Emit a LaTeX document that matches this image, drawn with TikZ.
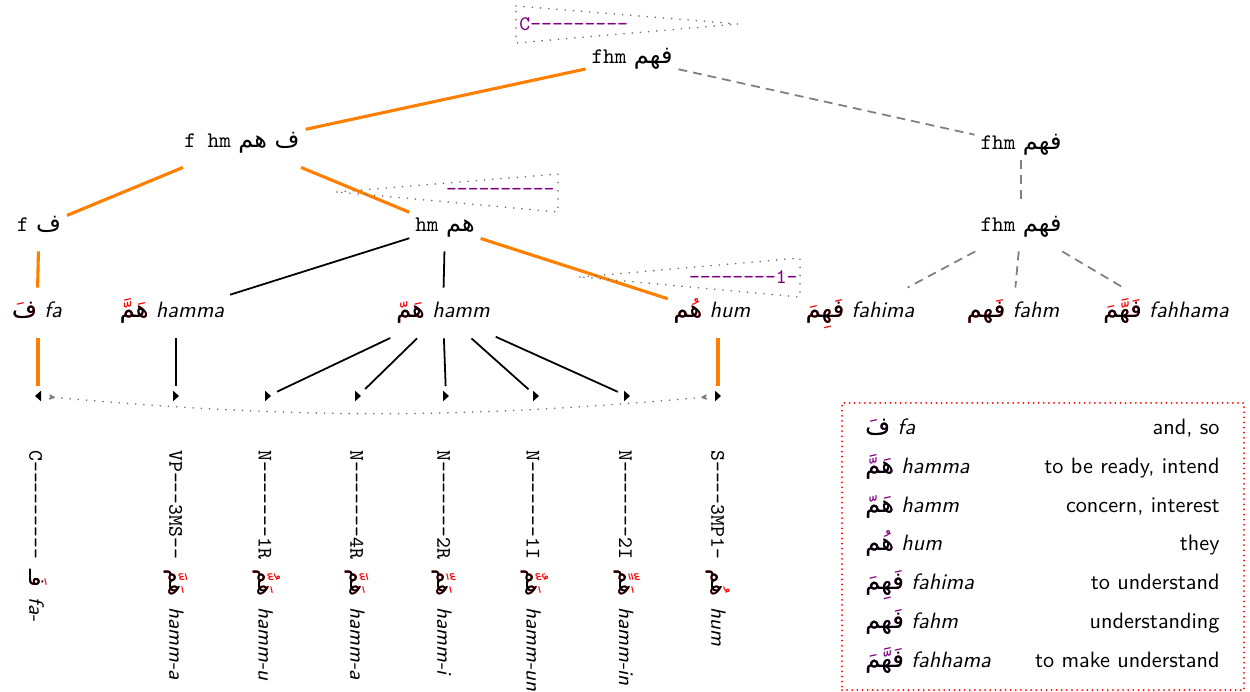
\documentclass[tikz,border=0pt]{standalone}
\usepackage{fontspec}
\usetikzlibrary{arrows.meta}
\TeXXeTstate=1
\newfontfamily\arabicfont[Script=Arabic,Scale=1.08]{DejaVu Sans}
\definecolor{treeorange}{RGB}{255,128,0}
\definecolor{tagpurple}{RGB}{128,0,128}
\definecolor{edgegray}{RGB}{128,128,128}
\definecolor{dotgray}{RGB}{110,110,110}
\newcommand\arb[1]{{\arabicfont\beginR#1\endR}}
\newcommand\arv[3][red]{\rlap{\textcolor{#1}{\arb{#2}}}\arb{#3}}
\newcommand\hy{-\kern0pt }
\newcommand\tagtt{\fontsize{9.3}{11}\selectfont\ttfamily}
\newcommand\tr[1]{{\sffamily\slshape #1}}
\begin{document}
\begin{tikzpicture}[x=0.45pt,y=-0.45pt,
  tn/.style={inner xsep=2.5pt,inner ysep=0pt,minimum height=21.6pt,text height=7pt,text depth=2.5pt},
  wn/.style={tn,minimum height=22.5pt},
  oedge/.style={draw=treeorange,line width=1.4pt},
  bedge/.style={draw=black,line width=0.8pt},
  gedge/.style={draw=edgegray,line width=0.8pt,dash pattern=on 4pt off 2.7pt},
  tipedge/.style={shorten >=4.5pt},
  roof/.style={draw=dotgray,line width=0.8pt,dash pattern=on 0pt off 3.7pt,line cap=round},
  curvestyle/.style={draw=dotgray,line width=0.8pt,dash pattern=on 0pt off 3.7pt,line cap=round,
     shorten <=5pt,shorten >=5pt,
     {Stealth[reversed,length=3.6pt,width=3.2pt,round,color=gray,fill=gray]}-{Stealth[reversed,length=3.6pt,width=3.2pt,round,color=gray,fill=gray]}},
  taglabel/.style={font=\tagtt,text=tagpurple,inner sep=0pt},
  vlabel/.style={rotate=-90,anchor=west,inner sep=0pt},
  legtext/.style={font=\sffamily,inner sep=0pt},
  legbox/.style={draw=red,line width=0.9pt,dash pattern=on 0pt off 2.3pt,line cap=round,inner sep=0pt},
]
\useasboundingbox (0,0) rectangle (1250,692);

% tree nodes
\node[tn] (r) at (632,59) {\texttt{fhm} \arb{فهم}};
\node[tn] (a) at (242,143) {\texttt{f hm} \arb{ف هم}};
\node[tn,minimum height=13.5pt] (b) at (1021,145) {\texttt{fhm} \arb{فهم}};
\node[tn] (c) at (1021,227) {\texttt{fhm} \arb{فهم}};
\node[tn] (d) at (39,227) {\texttt{f} \arb{ف}};
\node[tn] (e) at (445,227) {\texttt{hm} \arb{هم}};

% words
\node[wn] (w1) at (37,313) {\arv{فَ}{ف} \tr{fa}};
\node[wn] (w2) at (172,313) {\arv{هَمَّ}{هم} \tr{hamma}};
\node[wn] (w3) at (443,313) {\arv{هَمّ}{هم} \tr{hamm}};
\node[wn] (w4) at (712,313) {\arv{هُم}{هم} \tr{hum}};
\node[wn] (w5) at (860,313) {\arv{فَهِمَ}{فهم} \tr{fahima}};
\node[wn] (w6) at (1013,313) {\arv{فَهم}{فهم} \tr{fahm}};
\node[wn] (w7) at (1166,313) {\arv{فَهَّمَ}{فهم} \tr{fahhama}};

% tips
\coordinate (t1) at (38,396);
\coordinate (t2) at (176,396);
\coordinate (t3) at (268,396);
\coordinate (t4) at (358,396);
\coordinate (t5) at (446,396);
\coordinate (t6) at (536,396);
\coordinate (t7) at (627,396);
\coordinate (t8) at (718,396);
\fill (t1) ++(1.35pt,-2.4pt) -- ++(-2.7pt,2.4pt) -- ++(2.7pt,2.4pt) -- cycle;
\foreach \i in {2,...,8} \fill (t\i) ++(-1.35pt,-2.4pt) -- ++(2.7pt,2.4pt) -- ++(-2.7pt,2.4pt) -- cycle;

% tree edges
\draw[oedge] (r) -- (a);
\draw[gedge] (r) -- (b);
\draw[oedge] (a) -- (d);
\draw[oedge] (a) -- (e);
\draw[oedge] (d) -- (w1);
\draw[bedge] (e) -- (w2);
\draw[bedge] (e) -- (w3);
\draw[oedge] (e) -- (w4);
\draw[gedge] (b) -- (c);
\draw[gedge] (c) -- (w5);
\draw[gedge] (c) -- (w6);
\draw[gedge] (c) -- (w7);
\draw[oedge,tipedge] (w1.south -| t1) -- (t1);
\draw[bedge,tipedge] (w2.south -| t2) -- (t2);
\foreach \i in {3,...,7} \draw[bedge,tipedge] (w3) -- (t\i);
\draw[oedge,tipedge] (w4.south -| t8) -- (t8);
\draw[curvestyle] (t1) to[bend right=5] (t8);

% roofs with tag fragments
\draw[roof] (516,6) -- (738,24) -- (516,43) -- cycle;
\node[taglabel,anchor=west] (g1) at (519,24) {C\hy\hy\hy\hy\hy\hy\hy\hy\hy};
\draw[roof] (337,192) -- (558,174) -- (558,212) -- cycle;
\node[taglabel,anchor=east] (g2) at (555,192) {\hy\hy\hy\hy\hy\hy\hy\hy\hy\hy};
\draw[roof] (580,277) -- (800,258) -- (800,297) -- cycle;
\node[taglabel,anchor=east] (g3) at (798,277) {\hy\hy\hy\hy\hy\hy\hy\hy1\hy};

% vertical labels
\node[vlabel] (v1) at (38,450) {\tagtt C\hy\hy\hy\hy\hy\hy\hy\hy\hy{} \arv{فَـ}{فـ} \tr{fa-}};
\node[vlabel] (v2) at (176,450) {\tagtt VP\hy\hy\hy3MS\hy\hy{} \arv{هَمَّ}{هم} \tr{hamm-a}};
\node[vlabel] (v3) at (267,450) {\tagtt N\hy\hy\hy\hy\hy\hy\hy1R \arv{هَمُّ}{هم} \tr{hamm-u}};
\node[vlabel] (v4) at (357,450) {\tagtt N\hy\hy\hy\hy\hy\hy\hy4R \arv{هَمَّ}{هم} \tr{hamm-a}};
\node[vlabel] (v5) at (444,450) {\tagtt N\hy\hy\hy\hy\hy\hy\hy2R \arv{هَمِّ}{هم} \tr{hamm-i}};
\node[vlabel] (v6) at (535,450) {\tagtt N\hy\hy\hy\hy\hy\hy\hy1I \arv{هَمٌّ}{هم} \tr{hamm-un}};
\node[vlabel] (v7) at (627,450) {\tagtt N\hy\hy\hy\hy\hy\hy\hy2I \arv{هَمٍّ}{هم} \tr{hamm-in}};
\node[vlabel] (v8) at (718,450) {\tagtt S\hy\hy\hy\hy3MP1\hy{} \arv{هُم}{هم} \tr{hum}};

% legend
\node[legbox,minimum width=180.9pt,minimum height=129.2pt] (leg) at (1043,546.5) {};
\node[legtext,anchor=base west] (l1) at (865,435) {\arv[tagpurple]{فَ}{ف} \slshape fa};
\node[legtext,anchor=base east] (m1) at (1220,435) {and, so};
\node[legtext,anchor=base west] (l2) at (865,474) {\arv[tagpurple]{هَمَّ}{هم} \slshape hamma};
\node[legtext,anchor=base east] (m2) at (1220,474) {to be ready, intend};
\node[legtext,anchor=base west] (l3) at (865,512) {\arv[tagpurple]{هَمّ}{هم} \slshape hamm};
\node[legtext,anchor=base east] (m3) at (1220,512) {concern, interest};
\node[legtext,anchor=base west] (l4) at (865,550) {\arv[tagpurple]{هُم}{هم} \slshape hum};
\node[legtext,anchor=base east] (m4) at (1220,550) {they};
\node[legtext,anchor=base west] (l5) at (865,589) {\arv[tagpurple]{فَهِمَ}{فهم} \slshape fahima};
\node[legtext,anchor=base east] (m5) at (1220,589) {to understand};
\node[legtext,anchor=base west] (l6) at (865,628) {\arv[tagpurple]{فَهم}{فهم} \slshape fahm};
\node[legtext,anchor=base east] (m6) at (1220,628) {understanding};
\node[legtext,anchor=base west] (l7) at (865,667) {\arv[tagpurple]{فَهَّمَ}{فهم} \slshape fahhama};
\node[legtext,anchor=base east] (m7) at (1220,667) {to make understand};
\end{tikzpicture}
\end{document}
